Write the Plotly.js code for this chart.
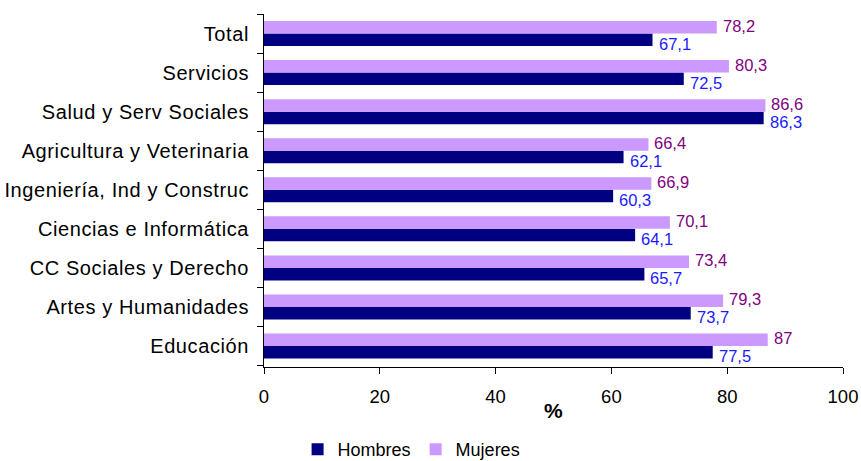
<!DOCTYPE html>
<html>
<head>
<meta charset="utf-8">
<script src="https://cdn.plot.ly/plotly-3.0.1.min.js"></script>
<style>
html,body{margin:0;padding:0;background:#fff;}
#chart .ytick text{letter-spacing:0.6px;}
</style>
</head>
<body>
<div id="chart" style="width:861px;height:461px;"></div>
<script>
const categories = ["Educación","Artes y Humanidades","CC Sociales y Derecho","Ciencias e Informática","Ingeniería, Ind y Construc","Agricultura y Veterinaria","Salud y Serv Sociales","Servicios","Total"];
const hombres = [77.5,73.7,65.7,64.1,60.3,62.1,86.3,72.5,67.1];
const mujeres = [87,79.3,73.4,70.1,66.9,66.4,86.6,80.3,78.2];
const xTicks = [0,20,40,60,80,100];
const xTitle = '%';

const fmt = v => String(v).replace('.', ',');
const font = "Liberation Sans, Arial, sans-serif";

const data = [
  {type:'bar', orientation:'h', name:'Hombres', y:categories, x:hombres,
   marker:{color:'#000080'}, hoverinfo:'x+y'},
  {type:'bar', orientation:'h', name:'Mujeres', y:categories, x:mujeres,
   marker:{color:'#cc99ff'}, hoverinfo:'x+y'}
];

const labelAnn = (vals, color, yshift) => vals.map((v, i) => ({
  x: v, y: categories[i], xref:'x', yref:'y', text: fmt(v), showarrow:false,
  xanchor:'left', yanchor:'middle', xshift:4, yshift:yshift,
  font:{color:color, size:16.5, family:font}
}));

const layout = {
  width:861, height:461,
  margin:{l:264, r:18, t:14, b:94},
  paper_bgcolor:'#fff', plot_bgcolor:'#fff',
  barmode:'group', bargap:0.36, bargroupgap:0,
  font:{family:font, color:'#000', size:19},
  xaxis:{range:[0,100], tickvals:xTicks, ticktext:xTicks.map(String), showgrid:false, zeroline:false,
    showline:true, linecolor:'#000', linewidth:1, ticks:'outside', ticklen:6, tickcolor:'#000',
    tickfont:{size:18.5, family:font}, ticklabelstandoff:7, fixedrange:true},
  yaxis:{type:'category', categoryorder:'array', categoryarray:categories, showgrid:false, zeroline:false,
    showline:true, linecolor:'#000', linewidth:1, ticks:'outside', ticklen:6, tickcolor:'#000',
    tickson:'boundaries', tickfont:{size:20, family:font}, ticklabelstandoff:10},
  annotations: labelAnn(mujeres, '#800080', 8).concat(labelAnn(hombres, '#1a1aff', -10)).concat([
    {text:'<b>' + xTitle + '</b>', xref:'paper', yref:'paper', x:0.5, y:-0.122, xanchor:'center', yanchor:'middle',
     showarrow:false, font:{size:21, family:font, color:'#000'}}
  ]),
  showlegend:true,
  legend:{orientation:'h', x:0.058, xanchor:'left', yref:'container', y:0.025, yanchor:'middle',
    font:{size:18, family:font}, itemwidth:30, traceorder:'normal', tracegroupgap:0}
};

Plotly.newPlot('chart', data, layout, {displayModeBar:false, staticPlot:true});
</script>
</body>
</html>
